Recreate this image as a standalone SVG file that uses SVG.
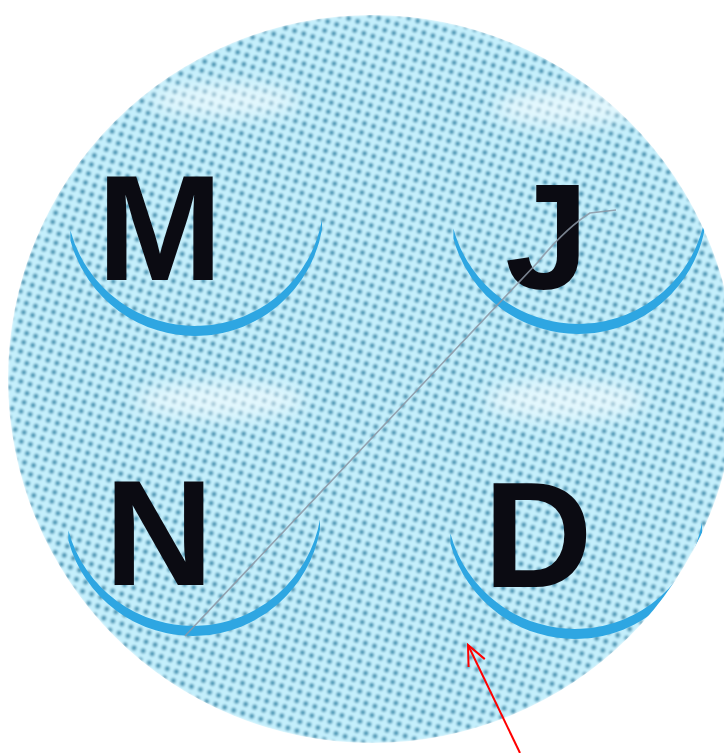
<svg xmlns="http://www.w3.org/2000/svg" width="724" height="753" viewBox="0 0 724 753">
  <defs>
    <pattern id="dots" width="9.5" height="9.5" patternUnits="userSpaceOnUse" patternTransform="rotate(18)">
      <rect width="9.5" height="9.5" fill="#c4effc"/>
      <circle cx="4.75" cy="4.75" r="2.5" fill="#4d98b6"/>
    </pattern>
    <clipPath id="disc">
      <circle cx="372" cy="379" r="364"/>
    </clipPath>
    <filter id="soft" x="-50%" y="-50%" width="200%" height="200%">
      <feGaussianBlur stdDeviation="9"/>
    </filter>
    <filter id="edge" x="-5%" y="-5%" width="110%" height="110%">
      <feGaussianBlur stdDeviation="1.2"/>
    </filter>
    <path id="crescent" d="M-124.6,33.4 A129,129 0 0 0 127.0,22.4 L127.0,12.4 A129,129 0 0 1 -124.6,23.4 Z"/>
    <marker id="openhead" viewBox="0 0 24 20" refX="22" refY="10" markerWidth="24" markerHeight="20" markerUnits="userSpaceOnUse" orient="auto">
      <path d="M2,1 L22,10 L2,19" fill="none" stroke="#ff0000" stroke-width="2"/>
    </marker>
  </defs>
  <style>
    .letter { font-family: "Liberation Sans", Arial, sans-serif; font-weight: bold; font-size: 151px; fill: #0b0b12; text-anchor: middle; }
    .arc { fill: #2ea6e2; }
    .glow { fill: #ffffff; opacity: 0.55; filter: url(#soft); }
  </style>
  <rect width="724" height="753" fill="#ffffff"/>
  <g id="disc-bg" clip-path="url(#disc)">
    <circle cx="372" cy="379" r="364" fill="url(#dots)" filter="url(#edge)"/>
    <ellipse class="glow" cx="225" cy="100" rx="75" ry="16"/>
    <ellipse class="glow" cx="565" cy="108" rx="70" ry="18"/>
    <ellipse class="glow" cx="220" cy="400" rx="85" ry="18"/>
    <ellipse class="glow" cx="565" cy="400" rx="80" ry="20"/>
  </g>
  <g clip-path="url(#disc)">
    <g id="node-M">
      <use href="#crescent" class="arc" transform="translate(195,207)"/>
      <text class="letter" x="160" y="280">M</text>
    </g>
    <g id="node-J">
      <use href="#crescent" class="arc" transform="translate(578,205)"/>
      <text class="letter" x="547" y="289">J</text>
    </g>
    <g id="node-N">
      <use href="#crescent" class="arc" transform="translate(193,507)"/>
      <text class="letter" x="159" y="585">N</text>
    </g>
    <g id="node-D">
      <use href="#crescent" class="arc" transform="translate(575,510)"/>
      <text class="letter" x="538" y="587">D</text>
    </g>
  </g>
  <g id="connectors">
    <path d="M185,636 L538,262 Q566,228 590,213 L616,210" fill="none" stroke="#8c96a4" stroke-width="1.6" opacity="0.85"/>
    <line x1="520" y1="753" x2="468" y2="645" stroke="#ff0000" stroke-width="2" marker-end="url(#openhead)"/>
  </g>
</svg>
